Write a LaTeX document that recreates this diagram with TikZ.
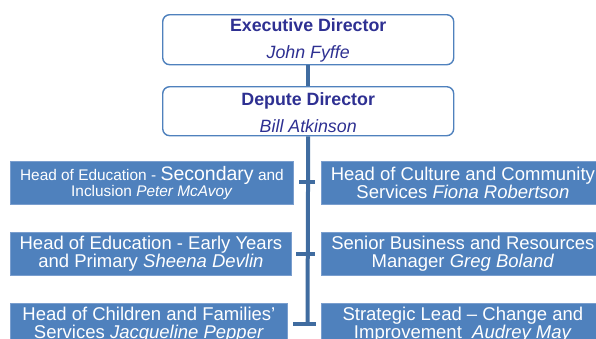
\documentclass[tikz,border=0pt]{standalone}
\usepackage{fontspec}
\setmainfont{Liberation Sans}
\definecolor{boxblue}{RGB}{79,129,189}
\definecolor{edgeblue}{RGB}{122,158,206}
\definecolor{lineblue}{RGB}{64,108,160}
\definecolor{navy}{RGB}{46,48,146}
\begin{document}
\begin{tikzpicture}[x=1pt,y=-1pt,
    topbox/.style={draw=boxblue,line width=1.4pt,rounded corners=7pt,fill=white,
      anchor=north west,minimum width=291pt,inner sep=0pt,align=center,
      text=navy,font=\fontsize{17.8}{27}\selectfont},
    rolebox/.style={draw=edgeblue,line width=0.8pt,fill=boxblue,anchor=north west,
      minimum height=43pt,inner sep=0pt,align=center,text=white,
      font=\fontsize{18.5}{18.3}\selectfont},
    link/.style={draw=lineblue,line width=4pt}]
      \useasboundingbox (0,0) rectangle (596,338);
      \clip (0,0) rectangle (596,338);
      \path
        (162,14) node[topbox,minimum height=50pt] (exec)
          {\rule{0pt}{15pt}\textbf{Executive Director}\\\textit{John Fyffe}}
        (162,86) node[topbox,minimum height=49pt] (depute)
          {\rule{0pt}{15pt}\textbf{Depute Director}\\\textit{Bill Atkinson}}
        (10,161) node[rolebox,minimum width=283pt,font=\fontsize{15.4}{16.7}\selectfont] (edsec)
          {Head of Education - {\fontsize{19.5}{16.7}\selectfont Secondary} and\\Inclusion \textit{Peter McAvoy}}
        (10,232) node[rolebox,minimum width=281pt] (edearly)
          {Head of Education - Early Years\\and Primary \textit{Sheena Devlin}}
        (10,303) node[rolebox,minimum width=277pt] (children)
          {Head of Children and Families’\\Services \textit{Jacqueline Pepper}}
        (321,161) node[rolebox,minimum width=283pt] (culture)
          {Head of Culture and Community\\Services \textit{Fiona Robertson}}
        (321,232) node[rolebox,minimum width=283pt] (business)
          {Senior Business and Resources\\Manager \textit{Greg Boland}}
        (321,303) node[rolebox,minimum width=283pt] (strategic)
          {Strategic Lead – Change and\\Improvement \ \textit{Audrey May}};
      \coordinate (trunkend) at (307.5,324);
      \coordinate (tick1l) at (299,182);
      \coordinate (tick1r) at (315,182);
      \coordinate (tick2l) at (296,254);
      \coordinate (tick2r) at (315,254);
      \coordinate (tick3l) at (293,324);
      \coordinate (tick3r) at (316,324);
      \begin{scope}[link]
        \draw (exec.south) to (depute.north);
        \draw (depute.south) to (trunkend);
        \draw (tick1l) to (tick1r);
        \draw (tick2l) to (tick2r);
        \draw (tick3l) to (tick3r);
      \end{scope}
    \end{tikzpicture}
\end{document}
